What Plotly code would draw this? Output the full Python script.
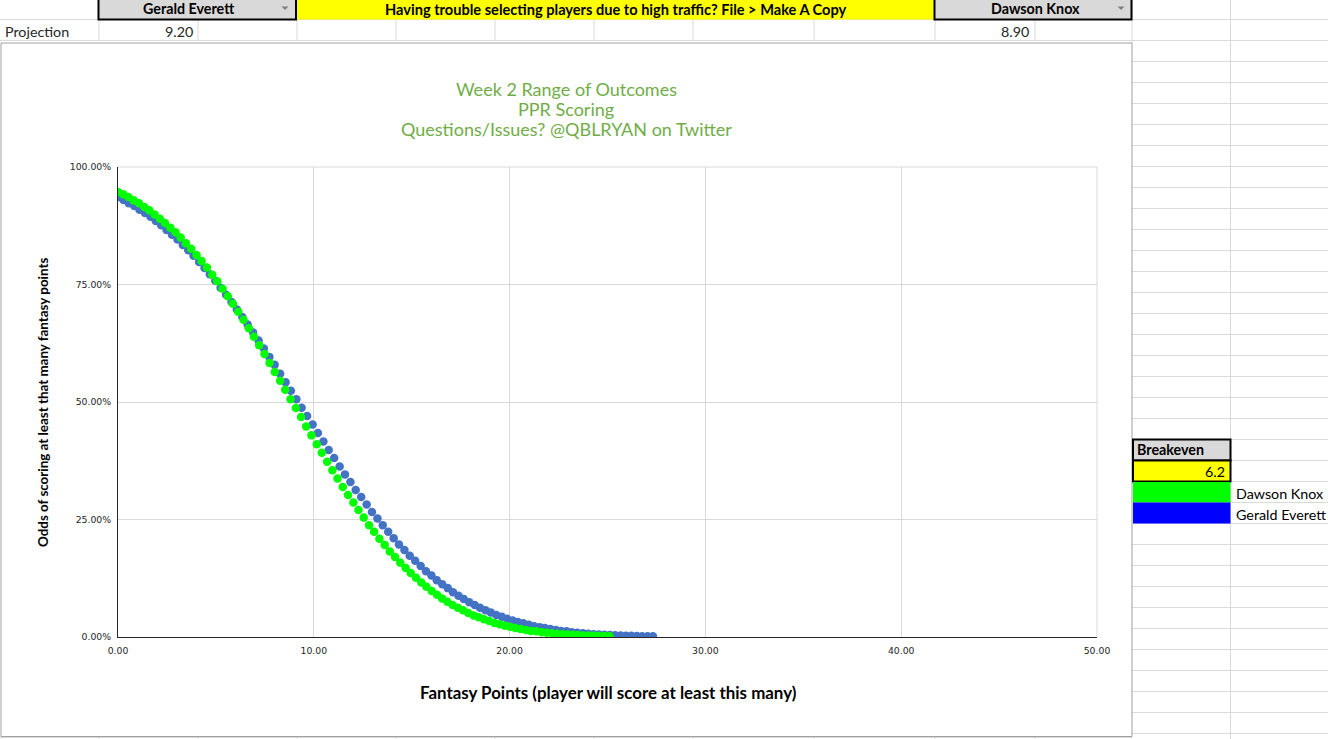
import plotly.graph_objects as go

# ---------------- data ----------------
everett_x = [0, 0.28, 0.55, 0.83, 1.10, 1.38, 1.66, 1.93, 2.21, 2.48,
             2.76, 3.04, 3.31, 3.59, 3.86, 4.14, 4.42, 4.69, 4.97, 5.24,
             5.52, 5.80, 6.07, 6.35, 6.62, 6.90, 7.18, 7.45, 7.73, 8.00,
             8.28, 8.56, 8.83, 9.11, 9.38, 9.66, 9.94, 10.21, 10.49, 10.76,
             11.04, 11.32, 11.59, 11.87, 12.14, 12.42, 12.70, 12.97, 13.25, 13.52,
             13.80, 14.08, 14.35, 14.63, 14.90, 15.18, 15.46, 15.73, 16.01, 16.28,
             16.56, 16.84, 17.11, 17.39, 17.66, 17.94, 18.22, 18.49, 18.77, 19.04,
             19.32, 19.60, 19.87, 20.15, 20.42, 20.70, 20.98, 21.25, 21.53, 21.80,
             22.08, 22.36, 22.63, 22.91, 23.18, 23.46, 23.74, 24.01, 24.29, 24.56,
             24.84, 25.12, 25.39, 25.67, 25.94, 26.22, 26.50, 26.77, 27.05, 27.32]
everett_pct = [93.6, 93.0, 92.3, 91.7, 90.9, 90.2, 89.4, 88.5, 87.6, 86.6,
               85.6, 84.6, 83.4, 82.3, 81.1, 79.8, 78.5, 77.2, 75.8, 74.3,
               72.8, 71.3, 69.7, 68.1, 66.5, 64.8, 63.1, 61.4, 59.6, 57.9,
               56.0, 54.2, 52.4, 50.6, 48.8, 47.0, 45.2, 43.4, 41.6, 39.8,
               38.1, 36.3, 34.6, 33.0, 31.3, 29.8, 28.2, 26.6, 25.2, 23.8,
               22.4, 21.0, 19.7, 18.5, 17.3, 16.2, 15.1, 14.0, 13.1, 12.1,
               11.2, 10.4, 9.5, 8.8, 8.1, 7.4, 6.8, 6.2, 5.7, 5.2,
               4.7, 4.3, 3.9, 3.5, 3.2, 2.9, 2.6, 2.3, 2.1, 1.9,
               1.7, 1.5, 1.3, 1.2, 1.0, 0.9, 0.8, 0.7, 0.6, 0.55,
               0.49, 0.43, 0.37, 0.32, 0.28, 0.25, 0.21, 0.18, 0.16, 0.14]

knox_x = [0, 0.27, 0.53, 0.80, 1.07, 1.34, 1.60, 1.87, 2.14, 2.40,
          2.67, 2.94, 3.20, 3.47, 3.74, 4.01, 4.27, 4.54, 4.81, 5.07,
          5.34, 5.61, 5.87, 6.14, 6.41, 6.68, 6.94, 7.21, 7.48, 7.74,
          8.01, 8.28, 8.54, 8.81, 9.08, 9.35, 9.61, 9.88, 10.15, 10.41,
          10.68, 10.95, 11.21, 11.48, 11.75, 12.02, 12.28, 12.55, 12.82, 13.08,
          13.35, 13.62, 13.88, 14.15, 14.42, 14.69, 14.95, 15.22, 15.49, 15.75,
          16.02, 16.29, 16.55, 16.82, 17.09, 17.36, 17.62, 17.89, 18.16, 18.42,
          18.69, 18.96, 19.22, 19.49, 19.76, 20.03, 20.29, 20.56, 20.83, 21.09,
          21.36, 21.63, 21.89, 22.16, 22.43, 22.70, 22.96, 23.23, 23.50, 23.76,
          24.03, 24.30, 24.56, 24.83, 25.10]
knox_pct = [94.7, 94.2, 93.6, 92.9, 92.3, 91.5, 90.8, 89.9, 89.0, 88.1,
            87.1, 86.1, 85.0, 83.8, 82.6, 81.3, 80.0, 78.6, 77.1, 75.7,
            74.1, 72.5, 70.9, 69.2, 67.5, 65.7, 63.9, 62.1, 60.2, 58.3,
            56.4, 54.5, 52.6, 50.6, 48.7, 46.8, 44.8, 42.9, 41.0, 39.2,
            37.3, 35.5, 33.7, 31.9, 30.2, 28.6, 27.0, 25.4, 23.8, 22.4,
            20.9, 19.6, 18.2, 17.0, 15.8, 14.7, 13.6, 12.6, 11.6, 10.7,
            9.8, 9.0, 8.2, 7.5, 6.8, 6.2, 5.7, 5.1, 4.6, 4.2,
            3.8, 3.4, 3.0, 2.7, 2.4, 2.2, 1.9, 1.7, 1.5, 1.3,
            1.2, 1.0, 0.9, 0.8, 0.7, 0.6, 0.53, 0.46, 0.40, 0.34,
            0.30, 0.26, 0.22, 0.19, 0.16]

player_a = "Gerald Everett"
player_b = "Dawson Knox"
proj_a = "9.20"
proj_b = "8.90"
breakeven = "6.2"
banner = "Having trouble selecting players due to high traffic? File > Make A Copy"
title_lines = ["Week 2 Range of Outcomes", "PPR Scoring", "Questions/Issues? @QBLRYAN on Twitter"]
x_title = "Fantasy Points (player will score at least this many)"
y_title = "Odds of scoring at least that many fantasy points"
x_ticks = [0, 10, 20, 30, 40, 50]
x_tick_text = ["0.00", "10.00", "20.00", "30.00", "40.00", "50.00"]
y_ticks = [0, 25, 50, 75, 100]
y_tick_text = ["0.00%", "25.00%", "50.00%", "75.00%", "100.00%"]

# ---------------- geometry helpers ----------------
W, H = 1328, 739
PL, PR, PT, PB = 118, 1097, 167, 637


def fx(px):
    return (px - PL) / (PR - PL)


def fy(py):
    return (PB - py) / (PB - PT)


GRID = "#dadada"
CELL_FONT = "Lato, 'Open Sans', sans-serif"
shapes = []
annotations = []


def line(x0, y0, x1, y1, color=GRID, width=1, layer="below"):
    shapes.append(dict(type="line", xref="paper", yref="paper",
                       x0=fx(x0), y0=fy(y0), x1=fx(x1), y1=fy(y1),
                       line=dict(color=color, width=width), layer=layer))


def rect(x0, y0, x1, y1, fill=None, color=None, width=0, layer="above"):
    d = dict(type="rect", xref="paper", yref="paper",
             x0=fx(x0), y0=fy(y0), x1=fx(x1), y1=fy(y1), layer=layer,
             line=dict(color=color if color else "rgba(0,0,0,0)", width=width))
    if fill:
        d["fillcolor"] = fill
    shapes.append(d)


def tri(cx, cy, color="#808080"):
    p = "M {:.5f},{:.5f} L {:.5f},{:.5f} L {:.5f},{:.5f} Z".format(
        fx(cx - 3.5), fy(cy - 1.8), fx(cx + 3.5), fy(cy - 1.8), fx(cx), fy(cy + 1.8))
    shapes.append(dict(type="path", xref="paper", yref="paper", path=p,
                       fillcolor=color, line=dict(width=0), layer="above"))


def text(x, y, s, size=14, color="#000000", bold=False, xanchor="center",
         family=CELL_FONT, angle=0):
    annotations.append(dict(x=fx(x), y=fy(y), xref="paper", yref="paper",
                            text=("<b>%s</b>" % s) if bold else s,
                            showarrow=False, xanchor=xanchor, yanchor="middle",
                            textangle=angle, borderpad=0,
                            font=dict(family=family, size=size, color=color)))


# ---------------- spreadsheet grid ----------------
line(0, 19.5, W, 19.5)
line(0, 40.5, W, 40.5)
for cx in [99, 198, 297, 396, 495, 594, 693, 814, 935, 1035]:
    line(cx, 19.5, cx, 40.5)
line(1132, 0, 1132, 43)
line(1230.5, 0, 1230.5, H)
ry = 61.5
while ry < H:
    line(1132, ry, W, ry)
    ry += 21
line(0, 737.5, 1132, 737.5)
for cx in [99, 198, 297, 396, 495, 594, 693, 814, 935, 1035]:
    line(cx, 737.5, cx, H)

# chart frame
rect(1, 43, 1132, 736.5, fill="#ffffff", color="#a0a0a0", width=1, layer="below")

# header cells
rect(296, 0, 935, 19.5, fill="#ffff00")
rect(98.5, -3, 296, 19.5, fill="#d9d9d9", color="#000000", width=2)
rect(934.5, -3, 1131.5, 19.5, fill="#d9d9d9", color="#000000", width=2)
tri(285, 8.3)
tri(1121, 8.3)
text(188, 8.5, player_a, size=14.3, bold=True)
text(1035, 8.5, player_b, size=14.3, bold=True)
text(616, 9.5, banner, size=14.6, bold=True)
text(4, 31, "Projection", size=14.3, color="#262626", xanchor="left")
text(194, 31, proj_a, size=14.3, color="#262626", xanchor="right")
text(1030, 31, proj_b, size=14.3, color="#262626", xanchor="right")

# breakeven / colour key cells
rect(1133, 439.5, 1230.5, 460.5, fill="#d9d9d9", color="#000000", width=2)
rect(1133, 460.5, 1230.5, 481.5, fill="#ffff00", color="#000000", width=2)
rect(1133, 482, 1230.5, 502.5, fill="#00ff00")
rect(1133, 502.5, 1230.5, 523.5, fill="#0000ff")
text(1136, 450, "Breakeven", size=14.3, bold=True, xanchor="left")
text(1226, 471, breakeven, size=14.3, xanchor="right")
text(1235, 493, player_b, size=14.3, xanchor="left")
text(1235, 514, player_a, size=14.3, xanchor="left")

# plot border lines (top / right gridlines)
line(PL, PT, PR, PT, color="#d9d9d9", layer="below")
line(PR, PT, PR, PB, color="#d9d9d9", layer="below")

# chart titles
for i, t in enumerate(title_lines):
    text(566, 89 + 20 * i, t, size=18, color="#70ad47")
text(608, 692, x_title, size=16.9, bold=True, family="Lato, sans-serif")
text(43, 403, y_title, size=13.4, bold=True, family="Lato, sans-serif", angle=-90)

# ---------------- figure ----------------
fig = go.Figure()
fig.add_trace(go.Scatter(x=everett_x, y=everett_pct, mode="markers", name=player_a,
                         marker=dict(color="#4472c4", size=8.5, line=dict(width=0))))
fig.add_trace(go.Scatter(x=knox_x, y=knox_pct, mode="markers", name=player_b,
                         marker=dict(color="#00ff00", size=8.5, line=dict(width=0))))

tickfont = dict(family="DejaVu Sans, sans-serif", size=9.3, color="#262626")
fig.update_layout(
    width=W, height=H, autosize=False,
    margin=dict(l=PL, r=W - PR, t=PT, b=H - PB, pad=0),
    paper_bgcolor="#ffffff", plot_bgcolor="#ffffff",
    showlegend=False,
    shapes=shapes, annotations=annotations,
    xaxis=dict(range=[0, 50], tickmode="array", tickvals=x_ticks, ticktext=x_tick_text,
               showgrid=True, gridcolor="#d9d9d9", gridwidth=1,
               zeroline=False, showline=True, linecolor="#262626", linewidth=1,
               ticks="", tickfont=tickfont, ticklabelstandoff=5, fixedrange=True),
    yaxis=dict(range=[0, 100], tickmode="array", tickvals=y_ticks, ticktext=y_tick_text,
               showgrid=True, gridcolor="#d9d9d9", gridwidth=1,
               zeroline=False, showline=True, linecolor="#262626", linewidth=1,
               ticks="", tickfont=tickfont, ticklabelstandoff=4, fixedrange=True),
)

fig.write_html("out.html", config={"displayModeBar": False},
               post_script="document.body.style.margin='0';document.body.style.overflow='hidden';")
